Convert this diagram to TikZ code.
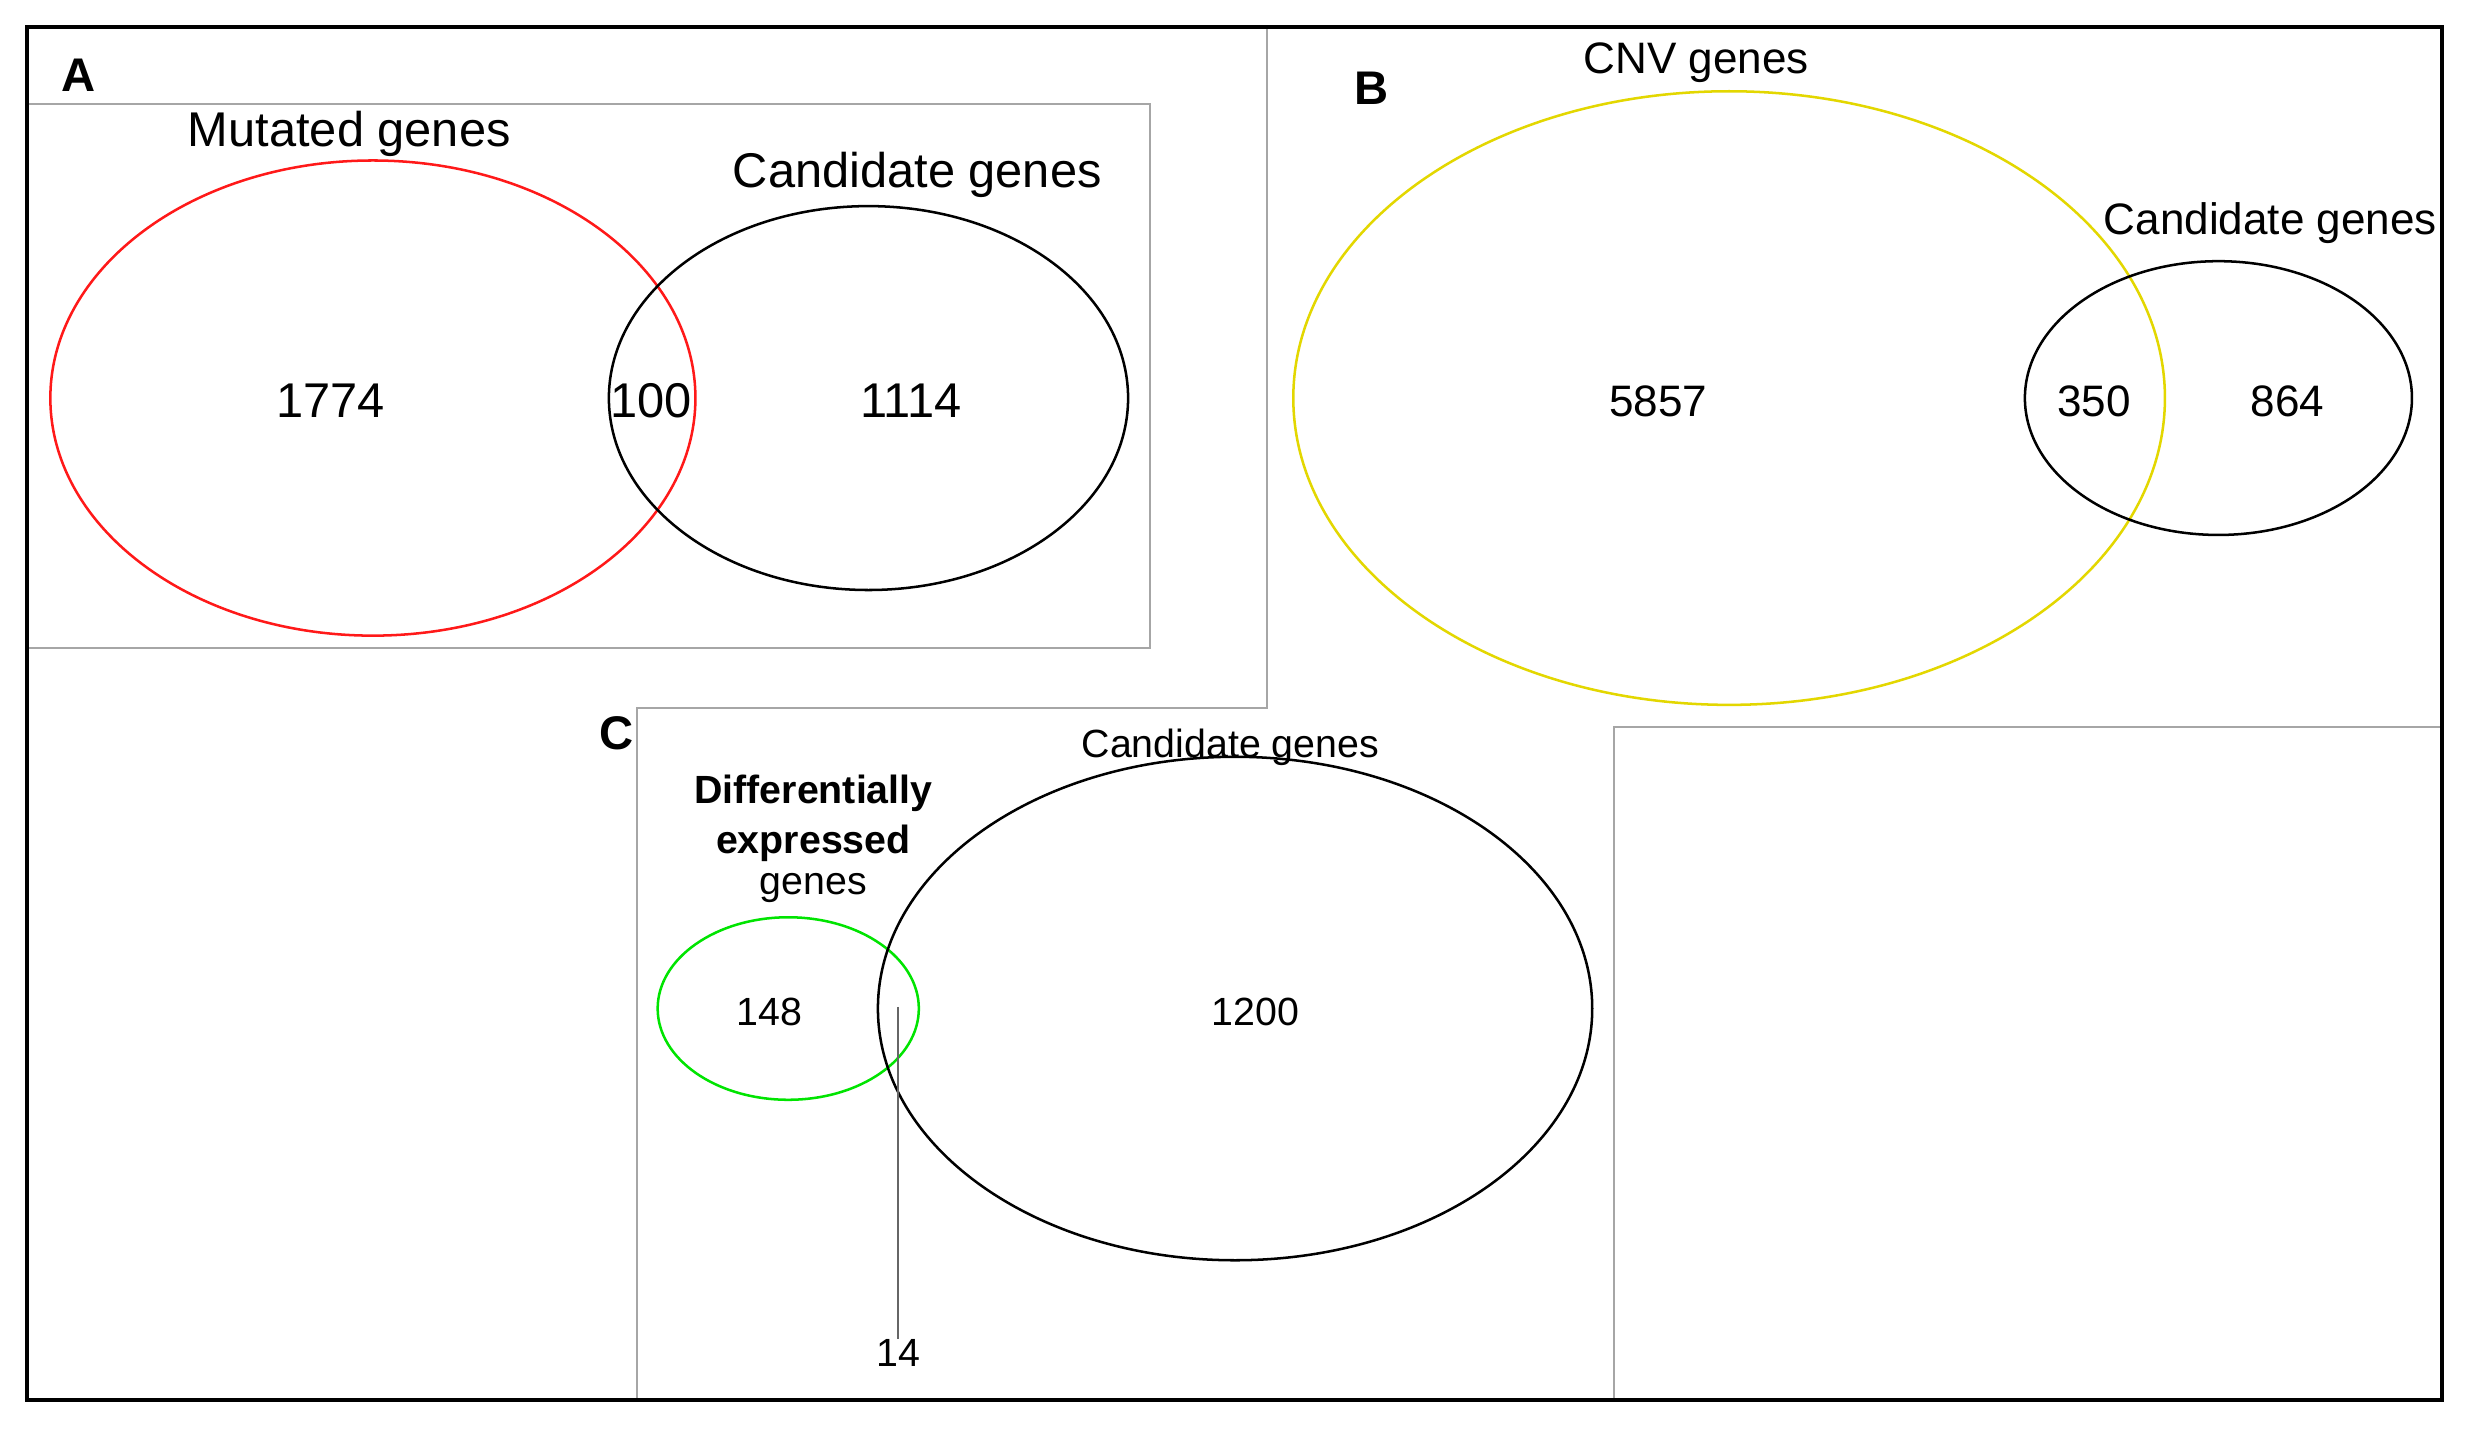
\documentclass[tikz,border=0pt]{standalone}
\usepackage{fontspec}
\setmainfont{Liberation Sans}
\begin{document}
\begin{tikzpicture}[x=0.5pt,y=-0.5pt,
  gl/.style={draw=black!35,line width=0.6pt},
  lab/.style={font=\fontsize{15}{15}\selectfont\bfseries},
  ta/.style={font=\fontsize{15.5}{16}\selectfont,inner sep=0pt},
  tb/.style={font=\fontsize{14}{15}\selectfont,inner sep=0pt},
  tc/.style={font=\fontsize{12.5}{13}\selectfont,inner sep=0pt,align=center}]
\useasboundingbox (0,0) rectangle (1568,910);
\fill[white] (0,0) rectangle (1568,910);
% panel frames
\draw[gl] (17,66) rectangle (731,412);
\draw[gl] (805,17) -- (805,450) -- (405,450) -- (405,890);
\draw[gl] (1552,462) -- (1026,462) -- (1026,890);
\draw[line width=1.4pt] (17,17) rectangle (1552,890);
% A
\node[lab] (la) at (50,48) {A};
\draw[red!90!white,line width=0.8pt] (237,253) ellipse [x radius=205,y radius=151];
\draw[line width=0.8pt] (552,253) ellipse [x radius=165,y radius=122];
\node[ta] (ma) at (222,85) {Mutated genes};
\node[ta] (ca) at (583,111) {Candidate genes};
\node[ta] (n1) at (210,255) {1774};
\node[ta] (n2) at (414,255) {100};
\node[ta] (n3) at (579,255) {1114};
% B
\node[lab] (lb) at (872,56) {B};
\draw[yellow!75!olive,line width=0.8pt] (1099,253) ellipse [x radius=277,y radius=195];
\draw[line width=0.8pt] (1410,253) ellipse [x radius=123,y radius=87];
\node[tb] (cnv) at (1078,40) {CNV genes};
\node[tb] (cb) at (1443,142) {Candidate genes};
\node[tb] (n4) at (1054,255) {5857};
\node[tb] (n5) at (1331,255) {350};
\node[tb] (n6) at (1454,255) {864};
% C
\node[lab] (lc) at (392,466) {C};
\draw[green!85!black!70!green,line width=0.8pt] (501,641) ellipse [x radius=83,y radius=58];
\draw[line width=0.8pt] (785,641) ellipse [x radius=227,y radius=160];
\node[tc] (cc) at (782,475) {Candidate genes};
\node[tc] (de) at (517,533) {\textbf{Differentially}\\[3pt]\textbf{expressed}\\genes};
\node[tc] (n7) at (489,643) {148};
\node[tc] (n8) at (798,643) {1200};
\node[tc] (n9) at (571,860) {14};
\coordinate (p14) at (571,640);
\draw[black!60,line width=0.6pt] (p14) -- (n9.north);
\end{tikzpicture}
\end{document}
